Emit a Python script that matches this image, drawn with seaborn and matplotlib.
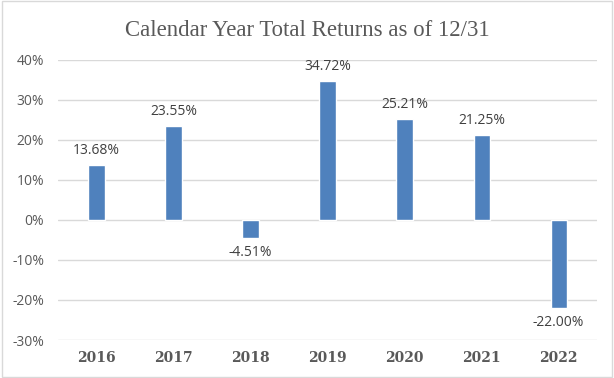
import matplotlib
matplotlib.use("Agg")
import matplotlib.pyplot as plt
import seaborn as sns
import pandas as pd
from matplotlib.patches import Rectangle

years = ["2016", "2017", "2018", "2019", "2020", "2021", "2022"]
returns = [13.68, 23.55, -4.51, 34.72, 25.21, 21.25, -22.00]
yticks = [-30, -20, -10, 0, 10, 20, 30, 40]
title = "Calendar Year Total Returns as of 12/31"

df = pd.DataFrame({"year": years, "ret": returns})

sns.set_style("white")
fig = plt.figure(figsize=(6.14, 3.78), dpi=100)
ax = fig.add_axes([0.0945, 0.1005, 0.878, 0.741])

sns.barplot(data=df, x="year", y="ret", color="#4F81BD", width=0.21,
            saturation=1, ax=ax, zorder=3)

ax.set_ylim(-30, 40)
ax.set_yticks(yticks)
ax.set_yticklabels([f"{v}%" for v in yticks], fontsize=10, color="#595959",
                   family="Open Sans")
ax.set_xlim(-0.5, len(years) - 0.5)
for lab in ax.get_xticklabels():
    lab.set_family("DejaVu Serif")
    lab.set_fontweight("bold")
    lab.set_fontsize(10)
    lab.set_color("#595959")
ax.tick_params(axis="y", length=0, pad=10)
ax.tick_params(axis="x", length=0, pad=8)
ax.set_xlabel("")
ax.set_ylabel("")
ax.grid(axis="y", color="#D9D9D9", linewidth=1, zorder=0)
for s in ax.spines.values():
    s.set_visible(False)

for i, v in enumerate(returns):
    if v >= 0:
        ax.annotate(f"{v:.2f}%", (i, v), xytext=(0, 5), textcoords="offset points",
                    ha="center", va="bottom", fontsize=10, color="#404040",
                    family="Open Sans")
    else:
        ax.annotate(f"{v:.2f}%", (i, v), xytext=(0, -5), textcoords="offset points",
                    ha="center", va="top", fontsize=10, color="#404040",
                    family="Open Sans")

fig.text(0.5, 0.918, title, ha="center", va="center", fontsize=16.4,
         color="#595959", family="Liberation Serif")

fig.patches.append(Rectangle((0.003, 0.003), 0.994, 0.994, transform=fig.transFigure,
                             fill=False, edgecolor="#D9D9D9", linewidth=1))

fig.savefig("out.png", dpi=100)
